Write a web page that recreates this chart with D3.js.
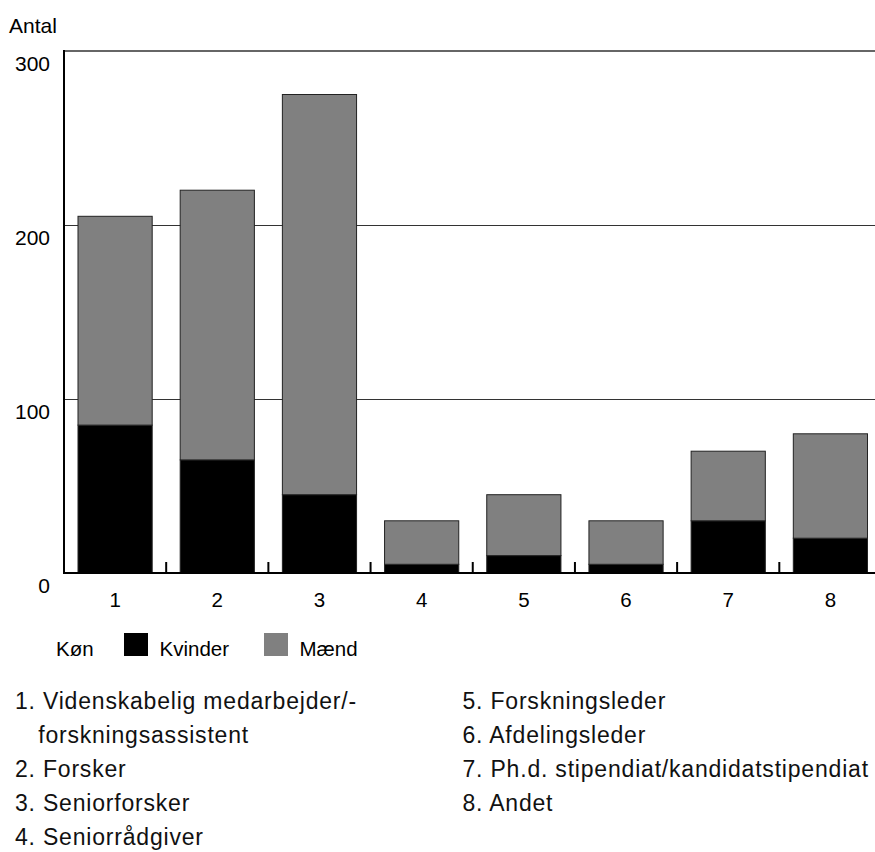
<!DOCTYPE html>
<html><head><meta charset="utf-8">
<script src="https://cdn.jsdelivr.net/npm/d3@7"></script>
<style>body{margin:0;background:#fff}svg{display:block}</style>
</head><body><svg id="c" width="875" height="852"></svg>
<script>
const categories = ["1","2","3","4","5","6","7","8"];
const kvinder = [85, 65, 45, 5, 10, 5, 30, 20];
const maend = [120, 155, 230, 25, 35, 25, 40, 60];
const yTicks = [0, 100, 200, 300];
const seriesNames = ["Kvinder", "Mænd"];
const seriesColors = ["#000000", "#808080"];
const notesLeft = [["1. ", "Videnskabelig medarbejder/-"], ["", "forskningsassistent"], ["2. ", "Forsker"], ["3. ", "Seniorforsker"], ["4. ", "Seniorrådgiver"]];
const notesRight = ["5. Forskningsleder", "6. Afdelingsleder", "7. Ph.d. stipendiat/kandidatstipendiat", "8. Andet"];

const svg = d3.select("#c");
const x0 = 64, x1 = 881.5, yTop = 51, yBot = 573;
const x = d3.scaleBand().domain(categories).range([x0, x1]).paddingInner(0.274).paddingOuter(0.137);
const y = d3.scaleLinear().domain([0, 300]).range([yBot, yTop]);
const font = "'Liberation Sans', Arial, sans-serif";

svg.append("g").selectAll("line").data([100, 200]).join("line")
  .attr("x1", x0).attr("x2", 875).attr("y1", d => y(d)).attr("y2", d => y(d))
  .attr("stroke", "#333").attr("stroke-width", 1).attr("shape-rendering", "crispEdges");
svg.append("line").attr("x1", x0).attr("x2", 875).attr("y1", y(300)).attr("y2", y(300))
  .attr("stroke", "#666").attr("stroke-width", 2);

const data = categories.map((c, i) => ({cat: c, Kvinder: kvinder[i], "Mænd": maend[i]}));
const stacked = d3.stack().keys(seriesNames)(data);
svg.append("g").selectAll("g").data(stacked).join("g")
  .attr("fill", (d, i) => seriesColors[i])
  .selectAll("rect").data(d => d).join("rect")
  .attr("x", d => x(d.data.cat)).attr("width", x.bandwidth())
  .attr("y", d => y(d[1])).attr("height", d => y(d[0]) - y(d[1]))
  .attr("stroke", "#222").attr("stroke-width", 1);

svg.append("line").attr("x1", x0).attr("x2", x0).attr("y1", yTop - 1).attr("y2", yBot + 1)
  .attr("stroke", "#000").attr("stroke-width", 2);
svg.append("line").attr("x1", x0).attr("x2", 875).attr("y1", yBot).attr("y2", yBot)
  .attr("stroke", "#000").attr("stroke-width", 2);
const step = x.step();
svg.append("g").selectAll("line").data(categories.slice(0, 7)).join("line")
  .attr("x1", d => x(d) + x.bandwidth() + (step - x.bandwidth()) / 2)
  .attr("x2", d => x(d) + x.bandwidth() + (step - x.bandwidth()) / 2)
  .attr("y1", yBot - 11).attr("y2", yBot)
  .attr("stroke", "#000").attr("stroke-width", 2);

svg.append("g").selectAll("text").data(yTicks).join("text")
  .attr("x", 50).attr("y", d => y(d) + 19.5).attr("text-anchor", "end")
  .attr("font-family", font).attr("font-size", 21).text(d => d);
svg.append("text").attr("x", 9).attr("y", 33).attr("font-family", font).attr("font-size", 21).text("Antal");

svg.append("g").selectAll("text").data(categories).join("text")
  .attr("x", d => x(d) + x.bandwidth() / 2).attr("y", 606.5).attr("text-anchor", "middle")
  .attr("font-family", font).attr("font-size", 20.5).text(d => d);

const lg = svg.append("g").attr("font-family", font).attr("font-size", 20.5);
lg.append("text").attr("x", 56).attr("y", 656).text("Køn");
const legX = [124, 264];
seriesNames.forEach((n, i) => {
  lg.append("rect").attr("x", legX[i]).attr("y", 633).attr("width", 24).attr("height", 23).attr("fill", seriesColors[i]);
  lg.append("text").attr("x", legX[i] + 35.5).attr("y", 656).text(n);
});

const nfs = 23, ls = 0.8, rowY0 = 709, rowStep = 34;
const leftG = svg.append("g").attr("font-family", font).attr("font-size", nfs).attr("letter-spacing", ls).attr("fill", "#111");
const probe = leftG.append("text").text(notesLeft[0][0]);
const indent = probe.node().getComputedTextLength() + ls * 3;
probe.remove();
leftG.selectAll("text").data(notesLeft).join("text")
  .attr("x", d => d[0] ? 15 : 15 + indent).attr("y", (d, i) => rowY0 + i * rowStep)
  .text(d => d[0] + d[1]);
svg.append("g").attr("font-family", font).attr("font-size", nfs).attr("letter-spacing", ls).attr("fill", "#111")
  .selectAll("text").data(notesRight).join("text")
  .attr("x", 462.5).attr("y", (d, i) => rowY0 + i * rowStep).text(d => d);
</script></body></html>
